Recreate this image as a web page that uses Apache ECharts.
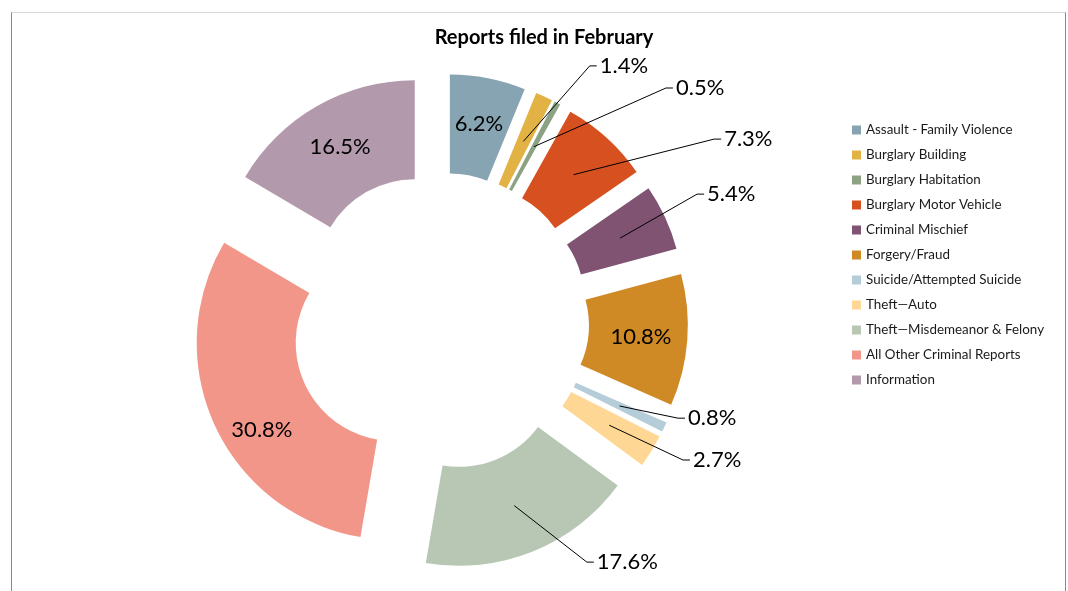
<!DOCTYPE html>
<html>
<head>
<meta charset="utf-8">
<script src="https://cdn.jsdelivr.net/npm/echarts@6/dist/echarts.min.js"></script>
<style>
  html, body { margin: 0; padding: 0; background: #fff; }
  #frame { position: absolute; left: 11px; top: 12px; width: 1053px; height: 600px;
           border-top: 1px solid #d9d9d9; border-left: 1px solid #898989; border-right: 1px solid #898989; }
  #pie { position: absolute; left: 0; top: 0; width: 1068px; height: 591px; }
</style>
</head>
<body>
<div id="frame"></div>
<div id="pie"></div>
<script>
var categories = ['Assault - Family Violence', 'Burglary Building', 'Burglary Habitation',
    'Burglary Motor Vehicle', 'Criminal Mischief', 'Forgery/Fraud', 'Suicide/Attempted Suicide',
    'Theft\u2014Auto', 'Theft\u2014Misdemeanor & Felony', 'All Other Criminal Reports', 'Information'];
var shares = [6.2, 1.4, 0.5, 7.3, 5.4, 10.8, 0.8, 2.7, 17.6, 30.8, 16.5];
var colors = ['#86a4b1', '#e2b344', '#8ca283', '#d65020', '#7f5371', '#cf8a26',
    '#b5cdd8', '#ffd794', '#b7c7b3', '#f3968a', '#b299ab'];

// where the excel labels were dragged to: [deg clockwise from 12 o'clock, radius / outer radius]
// null = keep the default inside label
var labelSpots = [null, [32.0, 1.53], [45.3, 1.685], [57.3, 1.714], [64.5, 1.502], null,
    [111.3, 1.351], [118.7, 1.464], [146.9, 1.458], [238.7, 1.058], null];

var cx = 440, cy = 321.5;
var rIn = 98, rOut = 197;
var explode = 51;   // excel "point explosion"

var pie_chart = echarts.init(document.querySelector('#pie'));

// mid angle of every slice (radians, screen coords, 0 = 3 o'clock, clockwise)
var total = shares.reduce(function (a, b) { return a + b; }, 0);
var midAngles = [];
var acc = 0;
shares.forEach(function (v) {
    midAngles.push(-Math.PI / 2 + (acc + v / 2) / total * Math.PI * 2);
    acc += v;
});

function make_layout(i) {
    return function (params) {
        var spot = labelSpots[i];
        if (!spot) return {};
        var a = (spot[0] - 90) * Math.PI / 180;
        var tx = cx + Math.cos(a) * spot[1] * rOut;
        var ty = cy + Math.sin(a) * spot[1] * rOut;
        if (i == 9) {
            return { x: tx, y: ty, align: 'center', verticalAlign: 'middle' };
        }
        // leader line starts in the middle of the slice, like excel does
        var m = midAngles[i];
        var rm = (rIn + rOut) / 2 + explode;
        var sx = cx + Math.cos(m) * rm;
        var sy = cy + Math.sin(m) * rm;
        return {
            x: tx, y: ty, align: 'left', verticalAlign: 'middle',
            labelLinePoints: [[sx, sy], [tx - 10, ty], [tx - 3, ty]]
        };
    };
}

var hidden = 'rgba(0,0,0,0)';

// one pie per slice, every pie has all values but shows only its own slice,
// pushed out along its mid angle -> exploded doughnut.
// withLabel = false: draws the slice, true: only the label + leader (on top)
function slice_series(i, withLabel) {
    var outside = labelSpots[i] && i != 9;
    return {
        type: 'pie',
        name: categories[i],
        z: withLabel ? 5 : 2,
        silent: withLabel,
        center: [cx + Math.cos(midAngles[i]) * explode, cy + Math.sin(midAngles[i]) * explode],
        radius: [rIn, rOut],
        startAngle: 90,
        clockwise: true,
        avoidLabelOverlap: false,
        emphasis: { disabled: true },
        labelLine: { smooth: false, lineStyle: { color: '#000', width: 1 } },
        labelLayout: withLabel ? make_layout(i) : null,
        data: categories.map(function (n, j) {
            var mine = j == i;
            return {
                name: n,
                value: shares[j],
                itemStyle: { color: (mine && !withLabel) ? colors[j] : hidden },
                label: {
                    show: mine && withLabel,
                    position: outside ? 'outside' : 'inside',
                    color: '#000',
                    fontFamily: 'Lato',
                    fontSize: 22,
                    formatter: function (p) { return p.value.toFixed(1) + '%'; }
                },
                labelLine: { show: !!(mine && withLabel && outside) }
            };
        })
    };
}

var seriesList = [];
categories.forEach(function (n, i) { seriesList.push(slice_series(i, false)); });
categories.forEach(function (n, i) { seriesList.push(slice_series(i, true)); });

var option = {
    animation: false,
    title: {
        text: 'Reports filed in February',
        left: 539,
        top: 23,
        textAlign: 'center',
        textStyle: { fontFamily: 'Lato', fontWeight: 'bold', fontSize: 20, color: '#000' }
    },
    legend: {
        orient: 'vertical',
        left: 847,
        top: 118,
        itemWidth: 9,
        itemHeight: 9,
        itemGap: 11,
        icon: 'rect',
        selectedMode: false,
        data: categories.map(function (n, i) {
            return { name: n, itemStyle: { color: colors[i] } };
        }),
        textStyle: { fontFamily: 'Lato', fontSize: 13.4, color: '#1a1a1a', lineHeight: 14 }
    },
    series: seriesList
};
pie_chart.setOption(option);
</script>
</body>
</html>
